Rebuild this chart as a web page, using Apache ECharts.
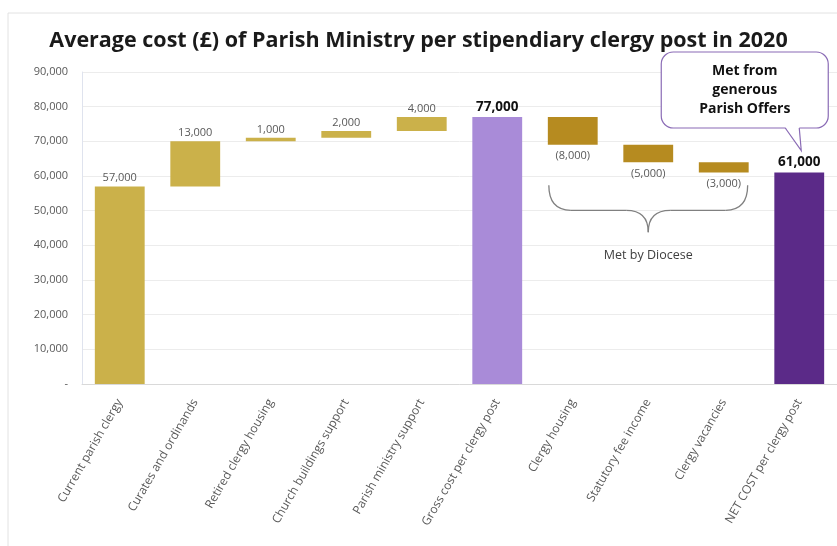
<!DOCTYPE html>
<html>
<head>
<meta charset="utf-8">
<script src="https://cdn.jsdelivr.net/npm/echarts@6/dist/echarts.min.js"></script>
<style>html,body{margin:0;padding:0;background:#fff}#c{width:837px;height:546px}</style>
</head>
<body>
<div id="c"></div>
<script>
const titleText = 'Average cost (£) of Parish Ministry per stipendiary clergy post in 2020';
const categories = ['Current parish clergy','Curates and ordinands','Retired clergy housing','Church buildings support','Parish ministry support','Gross cost per clergy post','Clergy housing','Statutory fee income','Clergy vacancies','NET COST per clergy post'];
const amounts = [57000, 13000, 1000, 2000, 4000, 77000, -8000, -5000, -3000, 61000];
const kinds = ['up','up','up','up','up','gross','down','down','down','net'];
const yTicks = [0,10000,20000,30000,40000,50000,60000,70000,80000,90000];
const calloutText = 'Met from\ngenerous\nParish Offers';
const braceText = 'Met by Diocese';

const colors = {up:'#CBB14A', down:'#B68B20', gross:'#A98BD8', net:'#5B2A88'};
const fmt = v => Math.abs(v).toLocaleString('en-GB');

// waterfall construction
let running = 0;
const base = [], vis = [];
amounts.forEach((a,i) => {
  const k = kinds[i];
  if (k === 'gross' || k === 'net') { base.push(0); vis.push(a); running = a; }
  else if (a >= 0) { base.push(running); vis.push(a); running += a; }
  else { running += a; base.push(running); vis.push(-a); }
});

const chart = echarts.init(document.getElementById('c'));
const FONT = '"Open Sans", "Noto Sans", sans-serif';
chart.setOption({
  animation:false,
  textStyle:{fontFamily:FONT},
  title:{text:titleText,left:'center',top:25,textStyle:{fontSize:21.5,fontWeight:'bold',color:'#1a1a1a',fontFamily:FONT}},
  grid:{left:82,right:-2,top:72,bottom:162,containLabel:false},
  xAxis:{type:'category',data:categories,
    axisTick:{show:false},
    axisLine:{lineStyle:{color:'#d9d9d9'}},
    axisLabel:{interval:0,rotate:60,fontSize:12,color:'#595959',margin:16,fontFamily:FONT}},
  yAxis:{type:'value',min:yTicks[0],max:yTicks[yTicks.length-1],interval:yTicks[1]-yTicks[0],
    axisLine:{show:true,lineStyle:{color:'#dfe3ee'}},
    axisTick:{show:false},
    splitLine:{lineStyle:{color:'#ececec'}},
    axisLabel:{fontSize:11,color:'#595959',margin:14,fontFamily:FONT,formatter:v=>v===0?'-':v.toLocaleString('en-GB')}},
  series:[
    {type:'bar',stack:'w',data:base,itemStyle:{color:'transparent'},barWidth:'66%',silent:true},
    {type:'bar',stack:'w',barWidth:'66%',
     data:vis.map((v,i)=>{
       const k = kinds[i];
       const big = (k==='gross'||k==='net');
       return {value:v,itemStyle:{color:colors[k]},
         label:{show:true,
           position:k==='down'?'bottom':'top',
           distance:k==='down'?6:3,
           formatter:k==='down'?'('+fmt(amounts[i])+')':fmt(amounts[i]),
           fontSize:big?13.5:11,fontWeight:big?'bold':'normal',
           color:big?'#111':'#595959',fontFamily:FONT}};
     })}
  ]
});

function drawAnnotations(){
  const P = (i,v) => chart.convertToPixel({xAxisIndex:0,yAxisIndex:0},[i,v]);
  const p6 = P(6,57300), p8 = P(8,57300), pMid = P(7,50100), pTip = P(7,43800), pTxt = P(7,37000);
  const p0 = P(0,0), p1 = P(1,0);
  const half = (p1[0]-p0[0])*0.66/2;
  const x1 = p6[0]-half+1, x2 = p8[0]+half-1, yT = p6[1], ym = pMid[1], xc = pMid[0], yTip = pTip[1];
  const r = 22;
  const braceStyle = {fill:'none',stroke:'#808080',lineWidth:1.3};
  const q = (ax,ay,cx,cy,bx,by) => ({type:'bezierCurve',shape:{x1:ax,y1:ay,x2:bx,y2:by,cpx1:cx,cpy1:cy},style:braceStyle,silent:true});
  const l = (ax,ay,bx,by,st) => ({type:'line',shape:{x1:ax,y1:ay,x2:bx,y2:by},style:st||braceStyle,silent:true});

  const pn = P(9,61000);
  const tipX = pn[0]+2, tipY = pn[1]-22;
  const bx = tipX-140, by = 52, bw = 167, bh = 76;
  const tx1 = tipX-16, tx2 = tipX-2;
  const cStroke = {stroke:'#8a6bb5',lineWidth:1.2};

  chart.setOption({graphic:[
    {type:'rect',shape:{x:8,y:13,width:840,height:540},style:{fill:'none',stroke:'#e2e2e2',lineWidth:1},silent:true,z:-1},
    q(x1,yT,x1,ym,x1+r,ym),
    l(x1+r,ym,xc-r,ym),
    q(xc-r,ym,xc,ym,xc,yTip),
    q(xc,yTip,xc,ym,xc+r,ym),
    l(xc+r,ym,x2-r,ym),
    q(x2-r,ym,x2,ym,x2,yT),
    {type:'text',x:xc,y:pTxt[1],style:{text:braceText,fill:'#404040',font:'12.5px '+FONT,textAlign:'center',textVerticalAlign:'middle'}},
    {type:'rect',z:10,shape:{x:bx,y:by,width:bw,height:bh,r:12},style:Object.assign({fill:'#fff'},cStroke)},
    {type:'polygon',z:11,shape:{points:[[tx1,by+bh-1],[tipX,tipY],[tx2,by+bh-1]]},style:{fill:'#fff',stroke:'none'}},
    {type:'polyline',z:12,shape:{points:[[tx1,by+bh],[tipX,tipY],[tx2,by+bh]]},style:Object.assign({fill:'none'},cStroke)},
    {type:'text',x:bx+bw/2,y:by+bh/2,z:13,style:{text:calloutText,fill:'#111',font:'bold 14px '+FONT,textAlign:'center',textVerticalAlign:'middle',lineHeight:19}}
  ]});
}
drawAnnotations();
</script>
</body>
</html>
